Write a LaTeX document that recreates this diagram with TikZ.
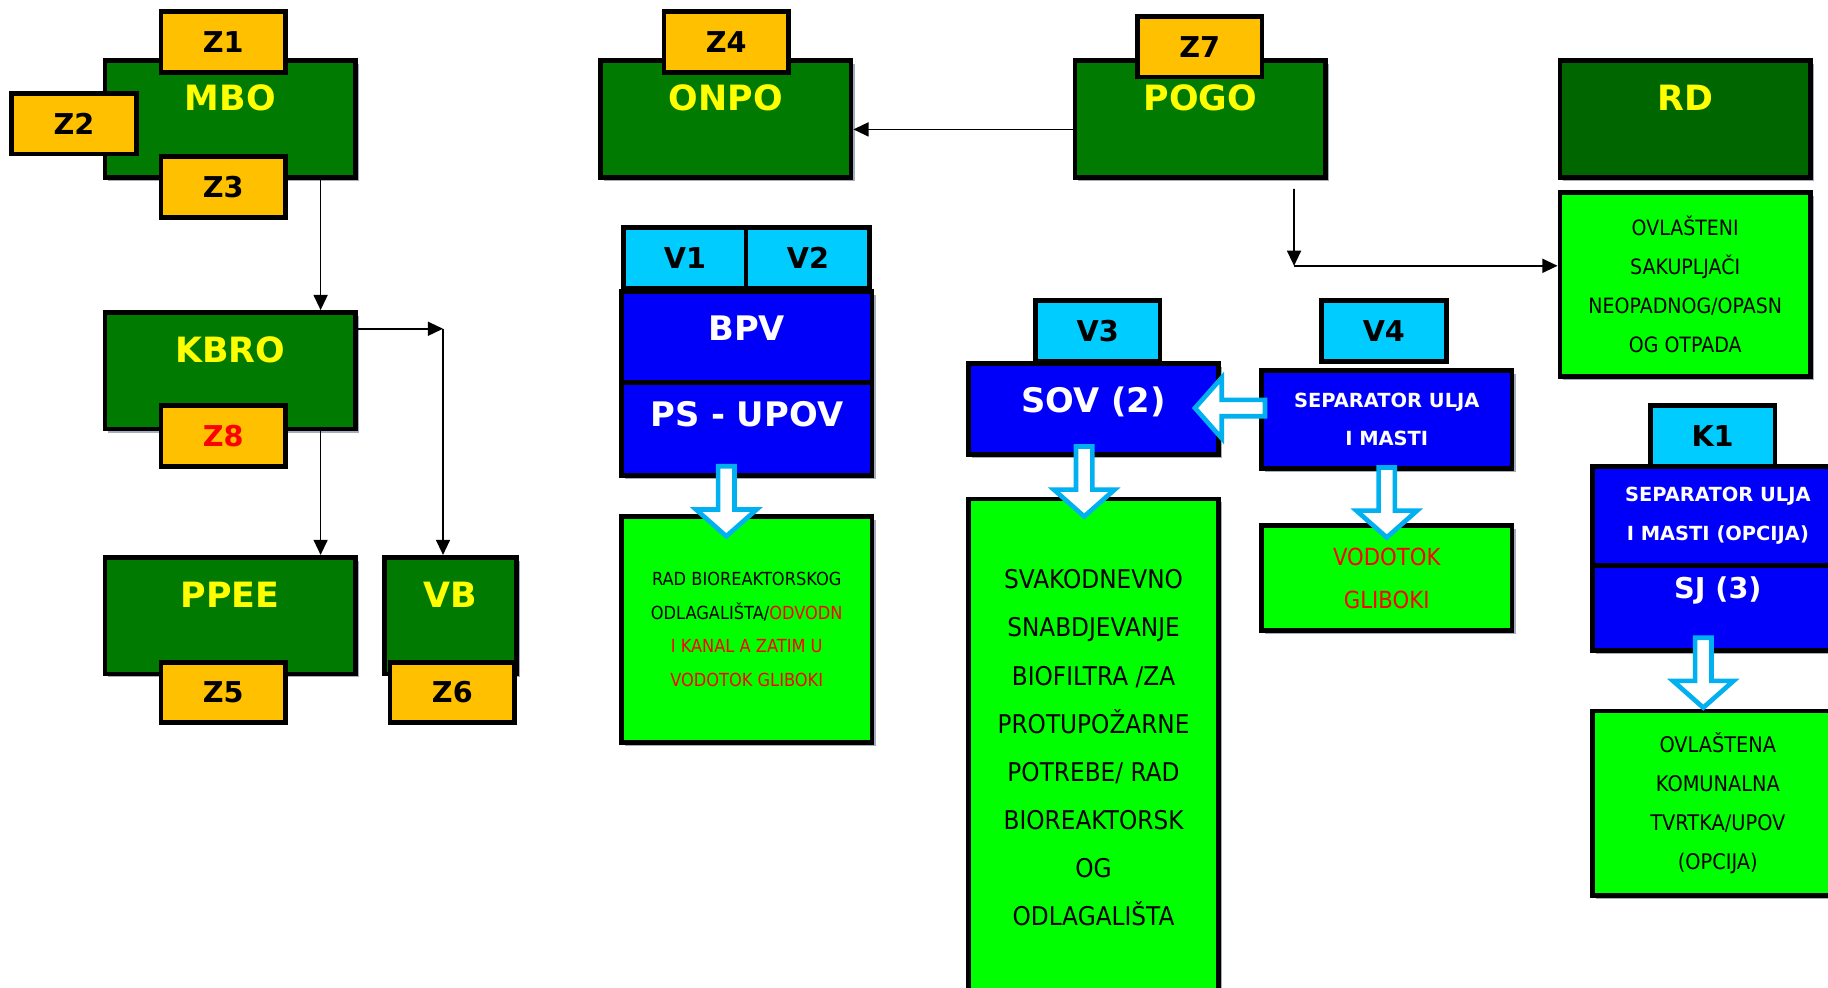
\documentclass[tikz,border=0pt]{standalone}
\usepackage{fontspec}
\setmainfont{DejaVu Sans}
\newfontfamily\narrowfont[FakeStretch=0.9]{DejaVu Sans}
\usepackage{xcolor}
\usepackage{tikz}
\usetikzlibrary{arrows.meta}
\usetikzlibrary{shadows}

\definecolor{dkgreen}{RGB}{0,122,0}
\definecolor{rdgreen}{RGB}{0,102,0}
\definecolor{ltgreen}{RGB}{0,255,0}
\definecolor{tagorange}{RGB}{255,192,0}
\definecolor{tagcyan}{RGB}{0,204,255}
\definecolor{boxblue}{RGB}{0,0,250}
\definecolor{arrowblue}{RGB}{0,176,240}
\definecolor{shadowgray}{RGB}{165,172,192}
\definecolor{titleyellow}{RGB}{255,255,0}

\tikzset{hollowarrow/.pic={
    \draw[draw=arrowblue, fill=white, line width=0.8mm, line join=miter]
      (-7,0) -- (7,0) -- (7,37) -- (26,37) -- (0,60) -- (-26,37) -- (-7,37) -- cycle;
  }}

\begin{document}
\begin{tikzpicture}[x=0.2mm, y=-0.2mm,
    >={Stealth[length=2.6mm, width=2.4mm, inset=0pt]}]
    \useasboundingbox (0,0) rectangle (1568,847);
    \tikzstyle{every node}=[rectangle, draw=black, line width=0.8mm, inner sep=0pt]
    \tikzstyle{boxshadow}=[drop shadow={shadow xshift=0.6mm, shadow yshift=-0.6mm, fill=shadowgray, opacity=1}]
    \tikzstyle{titlebox}=[boxshadow, fill=dkgreen, text=titleyellow,
      font=\bfseries\fontsize{17}{20}\selectfont,
      minimum width=43mm, text height=8.6mm, text depth=11.4mm]
    \tikzstyle{ztag}=[fill=tagorange, font=\bfseries\fontsize{14}{16}\selectfont,
      minimum width=21.4mm, minimum height=10.4mm]
    \tikzstyle{vtag}=[ztag, fill=tagcyan]
    \tikzstyle{bluebox}=[boxshadow, fill=boxblue, text=white, minimum width=43mm,
      font=\bfseries\fontsize{16.5}{20}\selectfont]
    \tikzstyle{smallblue}=[bluebox, align=center,
      font=\bfseries\fontsize{9.5}{18.7}\selectfont]
    \tikzstyle{greenbox}=[boxshadow, fill=ltgreen, minimum width=43mm, align=center]

    % left column
    \node[titlebox] (MBO) at (197.5,102) {MBO};
    \node[titlebox] (KBRO) at (197.5,318) {KBRO};
    \node[titlebox] (PPEE) at (197.5,528) {PPEE};
    \node[titlebox, minimum width=22.6mm] (VB) at (386.5,528) {VB};
    \node[ztag] (Z1) at (191.5,36) {Z1};
    \node[ztag] (Z2) at (63.5,106) {Z2};
    \node[ztag] (Z3) at (191.5,160.5) {Z3};
    \node[ztag, text=red] (Z8) at (191.5,374) {Z8};
    \node[ztag] (Z5) at (191.5,594) {Z5};
    \node[ztag] (Z6) at (388,594) {Z6};

    \draw[->, line width=0.3mm] ([xshift=15.5mm]MBO.south) -- ([xshift=15.5mm]KBRO.north);
    \draw[->, line width=0.3mm] ([xshift=15.5mm]KBRO.south) -- ([xshift=15.5mm]PPEE.north);
    \coordinate (kbvb) at (380,282);
    \draw[->, line width=0.3mm] (KBRO.east |- kbvb) -- (kbvb);
    \draw[->, line width=0.3mm] (kbvb) -- (kbvb |- VB.north);

    % top row
    \node[titlebox] (ONPO) at (622.5,102) {ONPO};
    \node[titlebox] (POGO) at (1029.5,102) {POGO};
    \node[titlebox, fill=rdgreen] (RD) at (1445.5,102) {RD};
    \node[ztag] (Z4) at (623,36) {Z4};
    \node[ztag] (Z7) at (1029,40) {Z7};
    \node[greenbox, minimum height=31.6mm,
      font=\narrowfont\fontsize{10.3}{19}\selectfont] (OVLS) at (1445.5,244)
      {OVLAŠTENI\\SAKUPLJAČI\\NEOPADNOG/OPASN\\OG OTPADA};

    \draw[->, line width=0.3mm] ([yshift=-1.8mm]POGO.west) -- ([yshift=-1.8mm]ONPO.east);
    \coordinate (pgrd) at (1110,228);
    \draw[->, line width=0.3mm] ([xshift=16.1mm,yshift=-1.6mm]POGO.south) -- (pgrd);
    \draw[->, line width=0.3mm] (pgrd) -- (pgrd -| OVLS.west);

    % water lines
    \node[bluebox, text height=8.4mm, text depth=7.2mm] (BPV) at (640.5,289) {BPV};
    \node[bluebox, text height=7.6mm, text depth=8.4mm] (PSUPOV) at (640.5,368) {PS - UPOV};
    \node[vtag, minimum width=21mm] (V1) at (587.5,221) {V1};
    \node[vtag, minimum width=21.2mm] (V2) at (693,221) {V2};
    \node[greenbox, minimum height=38.8mm,
      font=\narrowfont\fontsize{8.8}{16.4}\selectfont] (RADB) at (640.5,540)
      {RAD BIOREAKTORSKOG\\ODLAGALIŠTA/\textcolor{red}{ODVODN}\\
       \textcolor{red}{I KANAL A ZATIM U}\\\textcolor{red}{VODOTOK GLIBOKI}};

    \node[bluebox, minimum width=42.8mm, text height=8.4mm, text depth=7.2mm] (SOV) at (938,351) {SOV (2)};
    \node[vtag] (V3) at (941.5,284) {V3};
    \node[greenbox, minimum width=42.8mm, minimum height=85.4mm,
      font=\narrowfont\fontsize{12.6}{23.5}\selectfont] (SVAK) at (938,641.5)
      {SVAKODNEVNO\\SNABDJEVANJE\\BIOFILTRA /ZA\\PROTUPOŽARNE\\POTREBE/ RAD\\BIOREAKTORSK\\OG\\ODLAGALIŠTA};

    \node[smallblue, minimum height=16.8mm] (SEP) at (1189.5,360) {SEPARATOR ULJA\\I MASTI};
    \node[vtag] (V4) at (1187,284) {V4};
    \node[greenbox, minimum height=18mm, text=red,
      font=\narrowfont\fontsize{11.5}{21}\selectfont] (VODO) at (1189.5,496)
      {VODOTOK\\GLIBOKI};

    \node[smallblue, minimum height=17mm] (SEPK) at (1473.5,442.5) {SEPARATOR ULJA\\I MASTI (OPCIJA)};
    \node[bluebox, font=\bfseries\fontsize{14}{17}\selectfont,
      text height=5.6mm, text depth=9mm] (SJ) at (1473.5,521.5) {SJ (3)};
    \node[vtag] (K1) at (1469,374) {K1};
    \node[greenbox, minimum height=31.6mm,
      font=\narrowfont\fontsize{10.5}{19}\selectfont] (OVLA) at (1473.5,689)
      {OVLAŠTENA\\KOMUNALNA\\TVRTKA/UPOV\\(OPCIJA)};

    % outflows
    \pic at ([xshift=-3.5mm, yshift=2mm]PSUPOV.south) {hollowarrow};
    \pic at ([xshift=-1.6mm, yshift=1.8mm]SOV.south) {hollowarrow};
    \pic at ([yshift=0.6mm]SEP.south) {hollowarrow};
    \pic[rotate=-90] at ([xshift=1mm, yshift=2mm]SEP.west) {hollowarrow};
    \pic at ([xshift=-2.5mm, yshift=2.6mm]SJ.south) {hollowarrow};
\end{tikzpicture}
\end{document}
